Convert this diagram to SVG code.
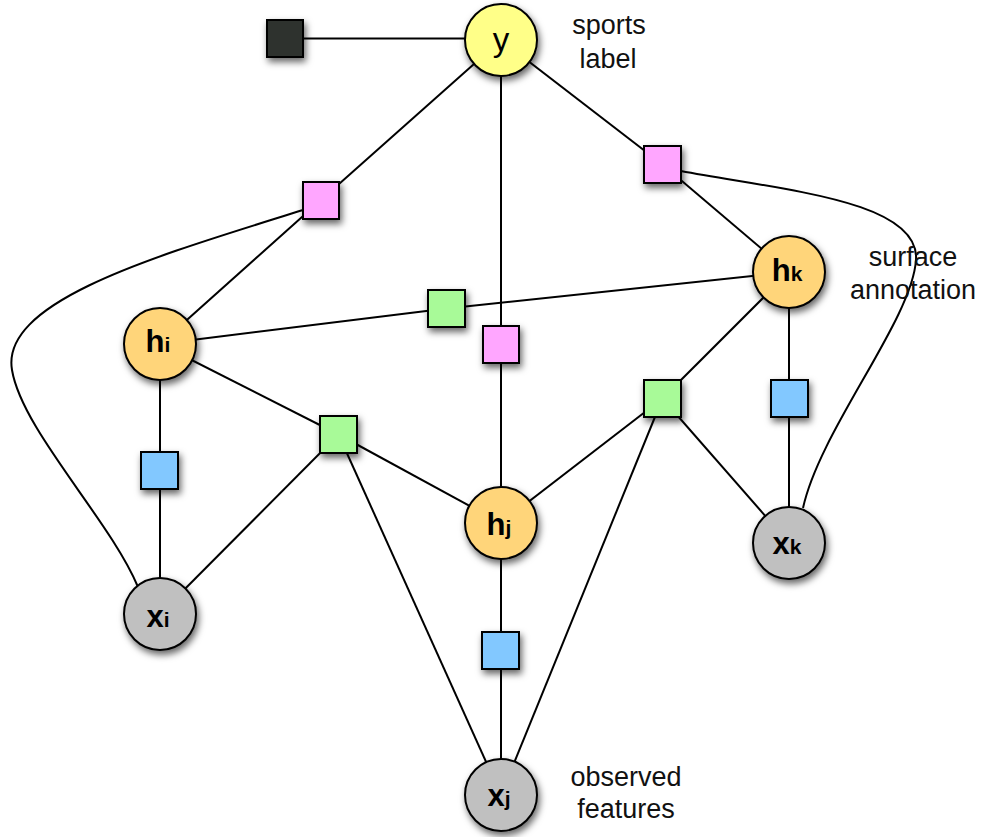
<svg xmlns="http://www.w3.org/2000/svg" width="984" height="837" viewBox="0 0 984 837">
<defs>
<filter id="sh" x="-50%" y="-50%" width="200%" height="200%">
<feDropShadow dx="2" dy="4" stdDeviation="3.5" flood-color="#000" flood-opacity="0.6"/>
</filter>
<style>
.e{stroke:#000;stroke-width:2;fill:none}
.n{stroke:#000;stroke-width:2;filter:url(#sh)}
.hn{fill:#FFD57A}
.xn{fill:#C0C0C0}
.yn{fill:#FFFF88}
.pk{fill:#FFA6FF}
.gr{fill:#A8FA98}
.bl{fill:#82C8FF}
.bk{fill:#2E302E}
.lbl{font-family:"Liberation Sans",Arial,sans-serif;font-size:27px;fill:#111;text-anchor:middle}
.nl{font-family:"Liberation Sans",Arial,sans-serif;font-weight:bold;font-size:31px;fill:#000;text-anchor:middle}
.sub{font-size:21px}
</style>
</defs>
<g id="connectors">
<line class="e" x1="285" y1="38.5" x2="501" y2="38.5"/>
<line class="e" x1="501" y1="40" x2="321" y2="200"/>
<line class="e" x1="501" y1="40" x2="501" y2="344.5"/>
<line class="e" x1="501" y1="40" x2="662.5" y2="164.5"/>
<line class="e" x1="321" y1="200" x2="160" y2="344"/>
<path class="e" d="M303 210 C160 255 0 300 12 370 C22 430 110 520 138 587"/>
<line class="e" x1="662.5" y1="164.5" x2="789" y2="272"/>
<path class="e" d="M681 171 C780 190 920 200 916 260 C912 320 820 430 803 508"/>
<line class="e" x1="501" y1="344.5" x2="501" y2="523"/>
<line class="e" x1="160" y1="344" x2="446.5" y2="308.5"/>
<line class="e" x1="446.5" y1="308.5" x2="789" y2="272"/>
<line class="e" x1="160" y1="344" x2="338.5" y2="434.5"/>
<line class="e" x1="338.5" y1="434.5" x2="501" y2="523"/>
<line class="e" x1="338.5" y1="434.5" x2="160" y2="614"/>
<line class="e" x1="338.5" y1="434.5" x2="501" y2="795"/>
<line class="e" x1="160" y1="344" x2="160" y2="614"/>
<line class="e" x1="501" y1="523" x2="662.5" y2="398.5"/>
<line class="e" x1="662.5" y1="398.5" x2="789" y2="272"/>
<line class="e" x1="662.5" y1="398.5" x2="789" y2="543"/>
<line class="e" x1="662.5" y1="398.5" x2="501" y2="795"/>
<line class="e" x1="501" y1="523" x2="501" y2="795"/>
<line class="e" x1="789" y1="272" x2="789" y2="543"/>
</g>
<g id="f_black"><rect class="n bk" x="267" y="20" width="36" height="37"/></g>
<g id="f_pinkL"><rect class="n pk" x="303" y="182" width="36" height="37"/></g>
<g id="f_pinkM"><rect class="n pk" x="483" y="326" width="36" height="37"/></g>
<g id="f_pinkR"><rect class="n pk" x="644" y="146" width="37" height="37"/></g>
<g id="f_greenT"><rect class="n gr" x="428" y="290" width="37" height="37"/></g>
<g id="f_greenL"><rect class="n gr" x="320" y="416" width="37" height="37"/></g>
<g id="f_greenR"><rect class="n gr" x="644" y="380" width="37" height="37"/></g>
<g id="f_blueI"><rect class="n bl" x="141" y="452" width="37" height="37"/></g>
<g id="f_blueJ"><rect class="n bl" x="482" y="632" width="37" height="37"/></g>
<g id="f_blueK"><rect class="n bl" x="771" y="380" width="37" height="37"/></g>
<g id="y"><circle class="n yn" cx="501" cy="40" r="36"/><text x="501" y="51" font-family="Liberation Sans,Arial,sans-serif" font-size="33" text-anchor="middle" fill="#000">y</text></g>
<g id="hi"><circle class="n hn" cx="160" cy="344" r="36"/><text class="nl" x="158" y="352">h<tspan class="sub">i</tspan></text></g>
<g id="hj"><circle class="n hn" cx="501" cy="523" r="36"/><text class="nl" x="499" y="535">h<tspan class="sub">j</tspan></text></g>
<g id="hk"><circle class="n hn" cx="789" cy="272" r="36"/><text class="nl" x="787" y="281">h<tspan class="sub">k</tspan></text></g>
<g id="xi"><circle class="n xn" cx="160" cy="614" r="36"/><text class="nl" x="158" y="627">x<tspan class="sub">i</tspan></text></g>
<g id="xj"><circle class="n xn" cx="501" cy="795" r="36"/><text class="nl" x="499" y="806">x<tspan class="sub">j</tspan></text></g>
<g id="xk"><circle class="n xn" cx="789" cy="543" r="36"/><text class="nl" x="787" y="554">x<tspan class="sub">k</tspan></text></g>
<g id="labels">
<text class="lbl" x="609" y="34">sports</text>
<text class="lbl" x="608" y="68">label</text>
<text class="lbl" x="913" y="266">surface</text>
<text class="lbl" x="913" y="299">annotation</text>
<text class="lbl" x="626" y="786">observed</text>
<text class="lbl" x="626" y="818">features</text>
</g>
</svg>
